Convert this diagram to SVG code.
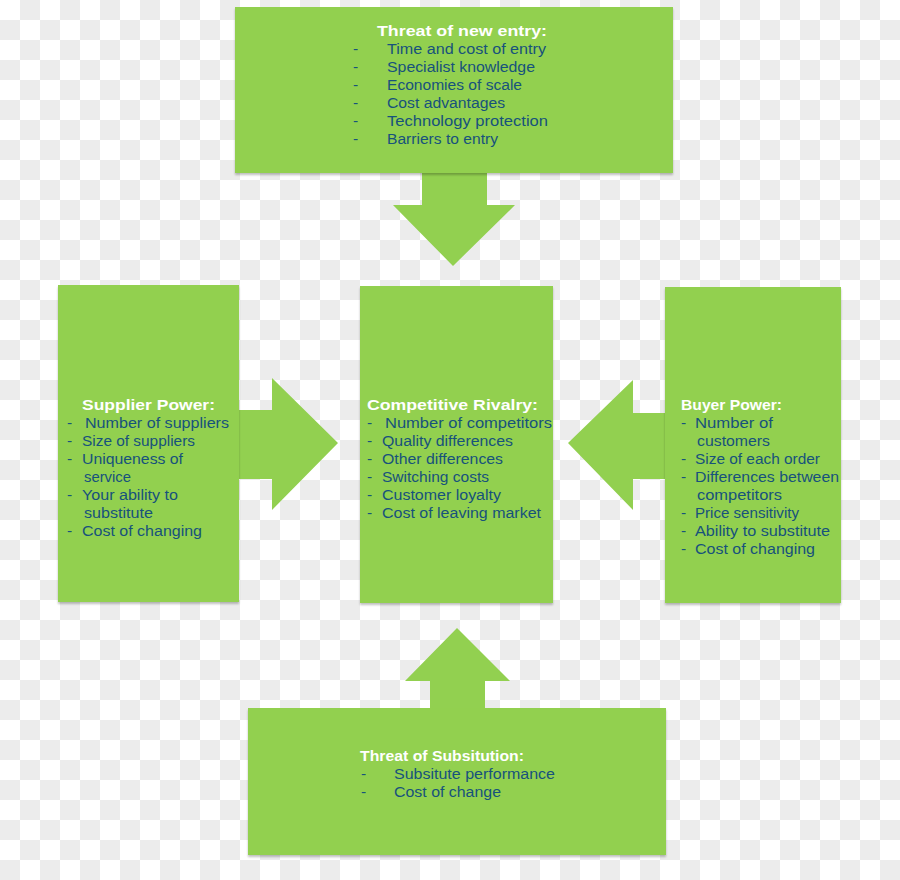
<svg xmlns="http://www.w3.org/2000/svg" width="900" height="880" viewBox="0 0 900 880">
<defs>
<pattern id="checker" width="40" height="40" patternUnits="userSpaceOnUse">
<rect width="40" height="40" fill="#ffffff"/>
<rect x="20" y="0" width="20" height="20" fill="#ececec"/>
<rect x="0" y="20" width="20" height="20" fill="#ececec"/>
</pattern>
<filter id="sh" x="-5%" y="-5%" width="110%" height="115%">
<feGaussianBlur in="SourceAlpha" stdDeviation="1.2"/>
<feOffset dx="0" dy="2" result="b"/>
<feComponentTransfer><feFuncA type="linear" slope="0.25"/></feComponentTransfer>
<feMerge><feMergeNode/><feMergeNode in="SourceGraphic"/></feMerge>
</filter>
</defs>
<style>
.box{fill:#92d050;}
.arrow{fill:#92d050;}
.t{font-family:"Liberation Sans",Arial,sans-serif;font-size:15.5px;font-weight:bold;fill:#ffffff;}
.b{font-family:"Liberation Sans",Arial,sans-serif;font-size:15.5px;fill:#17527c;}
</style>
<rect width="900" height="880" fill="url(#checker)"/>

<g id="connectors">
<path class="arrow" d="M422,170 L487,170 L487,205 L515,205 L453,266 L393,205 L422,205 Z"/>
<path class="arrow" d="M236,410 L272,410 L272,378 L338,443 L272,510 L272,479 L236,479 Z"/>
<path class="arrow" d="M668,413 L633,413 L633,380 L568,443 L633,510 L633,479 L668,479 Z"/>
<path class="arrow" d="M430,711 L430,681 L405,681 L457,628 L510,681 L485,681 L485,711 Z"/>
</g>

<g id="threat-new-entry">
<rect class="box" x="235" y="7" width="438" height="166" filter="url(#sh)"/>
<text class="t" x="377" y="36" textLength="170" lengthAdjust="spacingAndGlyphs">Threat of new entry:</text>
<text class="b" x="353" y="54">-</text><text class="b" x="387" y="54" textLength="159" lengthAdjust="spacingAndGlyphs">Time and cost of entry</text>
<text class="b" x="353" y="72">-</text><text class="b" x="387" y="72" textLength="148" lengthAdjust="spacingAndGlyphs">Specialist knowledge</text>
<text class="b" x="353" y="90">-</text><text class="b" x="387" y="90" textLength="135" lengthAdjust="spacingAndGlyphs">Economies of scale</text>
<text class="b" x="353" y="108">-</text><text class="b" x="387" y="108" textLength="118" lengthAdjust="spacingAndGlyphs">Cost advantages</text>
<text class="b" x="353" y="126">-</text><text class="b" x="387" y="126" textLength="161" lengthAdjust="spacingAndGlyphs">Technology protection</text>
<text class="b" x="353" y="144">-</text><text class="b" x="387" y="144" textLength="111" lengthAdjust="spacingAndGlyphs">Barriers to entry</text>
</g>

<g id="supplier-power">
<rect class="box" x="58" y="285" width="181" height="317" filter="url(#sh)"/>
<text class="t" x="82" y="410" textLength="133" lengthAdjust="spacingAndGlyphs">Supplier Power:</text>
<text class="b" x="67" y="428">-</text><text class="b" x="85" y="428" textLength="144" lengthAdjust="spacingAndGlyphs">Number of suppliers</text>
<text class="b" x="67" y="446">-</text><text class="b" x="82" y="446" textLength="113" lengthAdjust="spacingAndGlyphs">Size of suppliers</text>
<text class="b" x="67" y="464">-</text><text class="b" x="82" y="464" textLength="101" lengthAdjust="spacingAndGlyphs">Uniqueness of</text>
<text class="b" x="84" y="482" textLength="47" lengthAdjust="spacingAndGlyphs">service</text>
<text class="b" x="67" y="500">-</text><text class="b" x="82" y="500" textLength="96" lengthAdjust="spacingAndGlyphs">Your ability to</text>
<text class="b" x="84" y="518" textLength="69" lengthAdjust="spacingAndGlyphs">substitute</text>
<text class="b" x="67" y="536">-</text><text class="b" x="82" y="536" textLength="120" lengthAdjust="spacingAndGlyphs">Cost of changing</text>
</g>

<g id="competitive-rivalry">
<rect class="box" x="360" y="286" width="193" height="317" filter="url(#sh)"/>
<text class="t" x="367" y="410" textLength="171" lengthAdjust="spacingAndGlyphs">Competitive Rivalry:</text>
<text class="b" x="367" y="428">-</text><text class="b" x="385" y="428" textLength="167" lengthAdjust="spacingAndGlyphs">Number of competitors</text>
<text class="b" x="367" y="446">-</text><text class="b" x="382" y="446" textLength="131" lengthAdjust="spacingAndGlyphs">Quality differences</text>
<text class="b" x="367" y="464">-</text><text class="b" x="382" y="464" textLength="121" lengthAdjust="spacingAndGlyphs">Other differences</text>
<text class="b" x="367" y="482">-</text><text class="b" x="382" y="482" textLength="107" lengthAdjust="spacingAndGlyphs">Switching costs</text>
<text class="b" x="367" y="500">-</text><text class="b" x="382" y="500" textLength="119" lengthAdjust="spacingAndGlyphs">Customer loyalty</text>
<text class="b" x="367" y="518">-</text><text class="b" x="382" y="518" textLength="159" lengthAdjust="spacingAndGlyphs">Cost of leaving market</text>
</g>

<g id="buyer-power">
<rect class="box" x="665" y="287" width="176" height="316" filter="url(#sh)"/>
<text class="t" x="681" y="410" textLength="101" lengthAdjust="spacingAndGlyphs">Buyer Power:</text>
<text class="b" x="681" y="428">-</text><text class="b" x="695" y="428" textLength="78" lengthAdjust="spacingAndGlyphs">Number of</text>
<text class="b" x="697" y="446" textLength="73" lengthAdjust="spacingAndGlyphs">customers</text>
<text class="b" x="681" y="464">-</text><text class="b" x="695" y="464" textLength="125" lengthAdjust="spacingAndGlyphs">Size of each order</text>
<text class="b" x="681" y="482">-</text><text class="b" x="695" y="482" textLength="144" lengthAdjust="spacingAndGlyphs">Differences between</text>
<text class="b" x="697" y="500" textLength="85" lengthAdjust="spacingAndGlyphs">competitors</text>
<text class="b" x="681" y="518">-</text><text class="b" x="695" y="518" textLength="104" lengthAdjust="spacingAndGlyphs">Price sensitivity</text>
<text class="b" x="681" y="536">-</text><text class="b" x="695" y="536" textLength="135" lengthAdjust="spacingAndGlyphs">Ability to substitute</text>
<text class="b" x="681" y="554">-</text><text class="b" x="695" y="554" textLength="120" lengthAdjust="spacingAndGlyphs">Cost of changing</text>
</g>

<g id="threat-substitution">
<rect class="box" x="248" y="708" width="418" height="147" filter="url(#sh)"/>
<text class="t" x="360" y="761" textLength="164" lengthAdjust="spacingAndGlyphs">Threat of Subsitution:</text>
<text class="b" x="361" y="779">-</text><text class="b" x="394" y="779" textLength="161" lengthAdjust="spacingAndGlyphs">Subsitute performance</text>
<text class="b" x="361" y="797">-</text><text class="b" x="394" y="797" textLength="107" lengthAdjust="spacingAndGlyphs">Cost of change</text>
</g>
</svg>
